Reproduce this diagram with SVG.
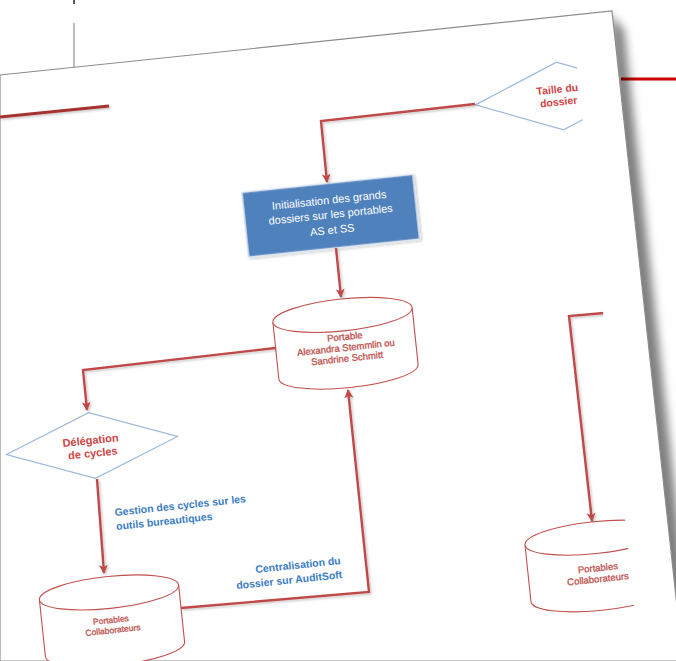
<svg xmlns="http://www.w3.org/2000/svg" width="676" height="661" viewBox="0 0 676 661">
<defs>
<style>
.conn{fill:none;stroke:#bf4a48;stroke-width:2.4;stroke-linejoin:miter}
.cyl{fill:#fff;stroke:#c0504d;stroke-width:1.1}
.dia{fill:#fff;stroke:#9cb8da;stroke-width:1.2}
.rt{font-family:"Liberation Sans",Arial,sans-serif;fill:#c0504d;stroke:#c0504d;stroke-width:0.3;text-anchor:middle}
.dt{font-family:"Liberation Sans",Arial,sans-serif;fill:#cf4444;font-weight:bold;text-anchor:middle}
.bt{font-family:"Liberation Sans",Arial,sans-serif;fill:#3b7dc4;font-weight:bold;font-size:10.5px}
.wt{font-family:"Liberation Sans",Arial,sans-serif;fill:#fff;font-size:11px;text-anchor:middle}
</style>
<marker id="arr" viewBox="0 0 10 10" refX="9" refY="5" markerWidth="9" markerHeight="9" markerUnits="userSpaceOnUse" orient="auto"><path d="M0,0 L10,5 L0,10 L2.5,5 z" fill="#bf4a48"/></marker>
<filter id="sh" x="-20%" y="-20%" width="140%" height="140%"><feDropShadow dx="1.5" dy="1.5" stdDeviation="1" flood-color="#000" flood-opacity="0.22"/></filter>
<filter id="pgsh" x="-50%" y="-10%" width="200%" height="120%"><feGaussianBlur stdDeviation="5"/></filter>
<clipPath id="clip"><polygon points="0,0 570,0 640,661 0,661"/></clipPath>
</defs>
<rect width="676" height="661" fill="#fff"/>
<g id="background">
<line x1="74" y1="0" x2="74" y2="4" stroke="#555" stroke-width="2"/>
<line x1="74" y1="23" x2="74" y2="67" stroke="#bdbdbd" stroke-width="2"/>
<line x1="621" y1="79" x2="676" y2="79" stroke="#cc0000" stroke-width="3"/>
<polygon points="610,14 624,30 694,661 650,661" fill="#000" opacity="0.5" filter="url(#pgsh)"/>
<polygon points="0,75 612,11 683,661 0,661" fill="#fff" stroke="#8c8c8c" stroke-width="1.2"/>
</g>
<g id="content" clip-path="url(#clip)">
<g id="taille" transform="translate(560,96) rotate(-6)">
<polygon class="dia" points="-85,0 0,-34 85,0 0,34"/>
<text class="dt" font-size="10.5" x="-2" y="-3.3">Taille du</text>
<text class="dt" font-size="10.5" x="-2" y="9.3">dossier</text>
</g>
<g id="init" transform="translate(330.75,215.75) rotate(-6)">
<rect x="-86" y="-32.5" width="172" height="65" fill="#4f81bd" stroke="#dbe5f1" stroke-width="1.5" filter="url(#sh)"/>
<text class="wt" x="0" y="-12">Initialisation des grands</text>
<text class="wt" x="0" y="2.5">dossiers sur les portables</text>
<text class="wt" x="0" y="18">AS et SS</text>
</g>
<g id="portable-as-ss" transform="translate(345.5,343.3) rotate(-6)">
<path class="cyl" d="M-70,-28.5 V28.5 A70,16 0 0 0 70,28.5 V-28.5"/>
<ellipse class="cyl" cx="0" cy="-28.5" rx="70" ry="16"/>
<text class="rt" font-size="9.5" x="0" y="-3.4">Portable</text>
<text class="rt" font-size="9.5" x="0" y="7.5">Alexandra Stemmlin ou</text>
<text class="rt" font-size="9.5" x="0" y="18.4">Sandrine Schmitt</text>
</g>
<g id="delegation" transform="translate(92,445.5) rotate(-6)">
<polygon class="dia" points="-86,0 0,-33 86,0 0,33"/>
<text class="dt" font-size="11" x="-1" y="-1.5">Délégation</text>
<text class="dt" font-size="11" x="0" y="11.5">de cycles</text>
</g>
<g id="collab-1" transform="translate(112,620.8) rotate(-6)">
<path class="cyl" d="M-70,-28.5 V28.5 A70,16 0 0 0 70,28.5 V-28.5"/>
<ellipse class="cyl" cx="0" cy="-28.5" rx="70" ry="16"/>
<text class="rt" font-size="8.5" x="-1" y="2">Portables</text>
<text class="rt" font-size="8.5" x="0" y="12.3">Collaborateurs</text>
</g>
<g id="collab-2" transform="translate(597.6,566) rotate(-6)">
<path class="cyl" d="M-70,-28.5 V28.5 A70,16 0 0 0 70,28.5 V-28.5"/>
<ellipse class="cyl" cx="0" cy="-28.5" rx="70" ry="16"/>
<text class="rt" font-size="9.5" x="0" y="5.2">Portables</text>
<text class="rt" font-size="9.5" x="-1" y="16.3">Collaborateurs</text>
</g>
<g id="connectors" filter="url(#sh)">
<path class="conn" d="M0,117 L109,106" style="stroke:#a83331;stroke-width:3.2"/>
<path class="conn" d="M475,104 L321,121 L327,182" marker-end="url(#arr)"/>
<path class="conn" d="M336,248 L341,297" marker-end="url(#arr)"/>
<path class="conn" d="M275,348 L83,370 L87,410" marker-end="url(#arr)"/>
<path class="conn" d="M97,479 L104,573" marker-end="url(#arr)"/>
<path class="conn" d="M181,608 L369,592 L348,390" marker-end="url(#arr)"/>
<path class="conn" d="M604,313 L569,316 L592,521" marker-end="url(#arr)"/>
</g>
<g id="edge-labels">
<text class="bt" transform="translate(115,516) rotate(-6)">Gestion des cycles sur les</text>
<text class="bt" transform="translate(116.5,530) rotate(-6)">outils bureautiques</text>
<text class="bt" text-anchor="end" transform="translate(341,564) rotate(-6)">Centralisation du</text>
<text class="bt" text-anchor="end" transform="translate(342.5,578) rotate(-6)">dossier sur AuditSoft</text>
</g>
</g>
</svg>
